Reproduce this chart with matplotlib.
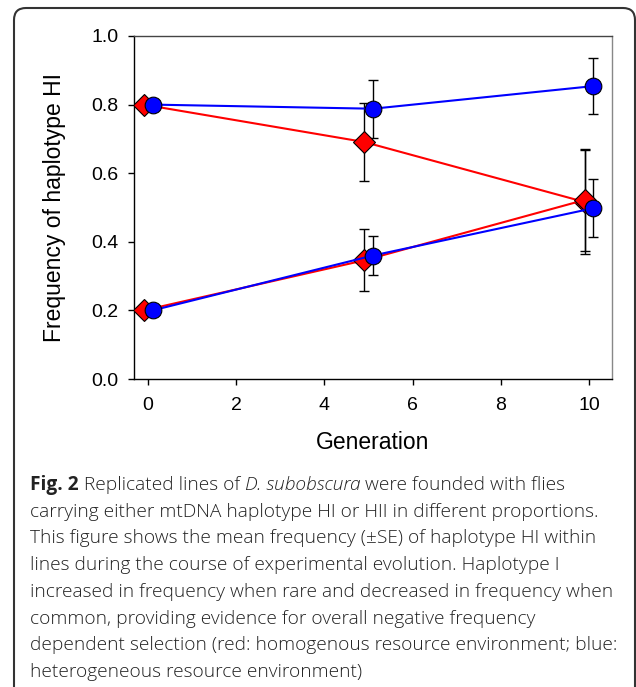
import matplotlib
matplotlib.use("Agg")
import matplotlib.pyplot as plt
from matplotlib.patches import FancyBboxPatch
from matplotlib.transforms import IdentityTransform

# data (x is generation, offset a bit per group)
gen_red = [-0.1, 4.9, 9.9]
gen_blue = [0.1, 5.1, 10.1]

red_high = [0.80, 0.691, 0.516]
red_high_se = [0.0, 0.115, 0.152]
red_low = [0.20, 0.346, 0.522]
red_low_se = [0.0, 0.090, 0.148]

blue_high = [0.80, 0.788, 0.854]
blue_high_se = [0.0, 0.085, 0.082]
blue_low = [0.20, 0.360, 0.498]
blue_low_se = [0.0, 0.057, 0.084]

yticks = [0.0, 0.2, 0.4, 0.6, 0.8, 1.0]
xticks = [0, 2, 4, 6, 8, 10]

caption = [
    "carrying either mtDNA haplotype HI or HII in different proportions.",
    "This figure shows the mean frequency (\u00b1SE) of haplotype HI within",
    "lines during the course of experimental evolution. Haplotype I",
    "increased in frequency when rare and decreased in frequency when",
    "common, providing evidence for overall negative frequency",
    "dependent selection (red: homogenous resource environment; blue:",
    "heterogeneous resource environment)",
]

W, H = 636, 687
fig = plt.figure(figsize=(W / 100, H / 100), dpi=100)
plt.rcParams['font.family'] = ['Liberation Sans', 'DejaVu Sans']

ax = fig.add_axes([134 / W, 1 - 379 / H, (612 - 134) / W, (379 - 36) / H])

eb = dict(fmt='none', ecolor='black', elinewidth=1.0, capsize=3.8, capthick=1.0, zorder=2)
ax.errorbar(gen_red, red_high, yerr=red_high_se, **eb)
ax.errorbar(gen_red, red_low, yerr=red_low_se, **eb)
ax.errorbar(gen_blue, blue_high, yerr=blue_high_se, **eb)
ax.errorbar(gen_blue, blue_low, yerr=blue_low_se, **eb)

for y in (red_high, red_low):
    ax.plot(gen_red, y, color='#ff0000', lw=1.5, marker='D', markersize=11.5,
            markerfacecolor='#ff0000', markeredgecolor='black', markeredgewidth=0.8, zorder=3)
for y in (blue_high, blue_low):
    ax.plot(gen_blue, y, color='#0000ff', lw=1.5, marker='o', markersize=12,
            markerfacecolor='#0000ff', markeredgecolor='black', markeredgewidth=0.8, zorder=4)

ax.set_xlim(-0.32, 10.52)
ax.set_ylim(0, 1.0)
ax.set_xticks(xticks)
ax.set_yticks(yticks)
ax.set_yticklabels([f"{v:.1f}" for v in yticks])
ax.tick_params(direction='out', length=4, width=1, labelsize=14)
ax.tick_params(axis='y', pad=7)
ax.tick_params(axis='x', pad=9)
ax.spines['right'].set_color('#888888')
ax.spines['top'].set_color('#444444')
for s in ax.spines.values():
    s.set_linewidth(1.0)

ax.set_xlabel("Generation", fontsize=16.5, labelpad=12)
ax.set_ylabel("Frequency of haplotype HI", fontsize=16.5, labelpad=18)

# caption
cap_font = ['Open Sans', 'DejaVu Sans']
cap_size = 13.8
cap_color = '#222222'
x0 = 30
base0 = 490
step = 26.7
renderer = fig.canvas.get_renderer()

pieces = [("Fig. 2", 'bold', 'normal'), (" Replicated lines of ", 'light', 'normal'),
          ("D. subobscura", 'light', 'italic'), (" were founded with flies", 'light', 'normal')]
x = x0
for txt, wt, st in pieces:
    t = fig.text(x / W, 1 - base0 / H, txt, family=cap_font, fontsize=cap_size,
                 fontweight=wt, fontstyle=st, color=cap_color, va='baseline', ha='left')
    x += t.get_window_extent(renderer).width

for i, line in enumerate(caption):
    fig.text(x0 / W, 1 - (base0 + step * (i + 1)) / H, line, family=cap_font,
             fontsize=cap_size, fontweight='light', color=cap_color,
             va='baseline', ha='left')

# rounded frame around the whole figure panel
frame = FancyBboxPatch((14, -30), 621, H - 8 + 30, boxstyle="round,pad=0,rounding_size=12",
                       transform=IdentityTransform(), fill=False, edgecolor='#333333', lw=1.5)
fig.patches.append(frame)

fig.savefig("out.png", dpi=100)
